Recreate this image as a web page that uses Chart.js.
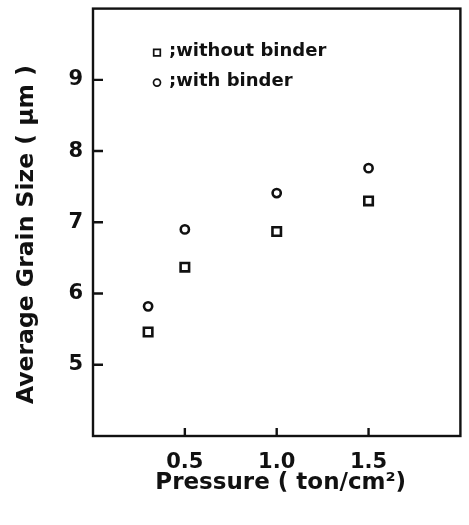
<!DOCTYPE html>
<html><head><meta charset="utf-8">
<script src="https://cdn.jsdelivr.net/npm/chart.js@4.4.1/dist/chart.umd.min.js"></script>
<style>html,body{margin:0;padding:0;background:#fff;}canvas{display:block;}</style>
</head><body>
<canvas id="c" width="469" height="525"></canvas>
<script>
const pressure = [0.3, 0.5, 1.0, 1.5];
const withoutBinder = [5.46, 6.37, 6.87, 7.30];
const withBinder = [5.82, 6.90, 7.41, 7.76];
const xTicks = [0.5, 1.0, 1.5];
const yTicks = [5, 6, 7, 8, 9];
const seriesLabels = [';without binder', ';with binder'];
const xTitle = ' Pressure ( ton/cm\u00B2)';
const yTitle = 'Average Grain Size ( \u03BCm )   ';

const FONT = "'DejaVu Sans', sans-serif";
const INK = '#111';

const toPts = ys => pressure.map((x, i) => ({x, y: ys[i]}));

const frame = {
  id: 'frame',
  afterDraw(chart) {
    const {ctx, chartArea: a, scales: {x, y}} = chart;
    ctx.save();
    ctx.strokeStyle = INK;
    ctx.lineWidth = 2.4;
    ctx.lineCap = 'butt';
    ctx.strokeRect(a.left, a.top, a.right - a.left, a.bottom - a.top);
    ctx.beginPath();
    y.ticks.forEach(t => {
      const p = y.getPixelForValue(t.value);
      ctx.moveTo(a.left, p); ctx.lineTo(a.left + 10, p);
    });
    x.ticks.forEach(t => {
      const p = x.getPixelForValue(t.value);
      ctx.moveTo(p, a.bottom); ctx.lineTo(p, a.bottom - 8);
    });
    ctx.stroke();
    // legend
    const rows = [{dy: 44}, {dy: 74}];
    chart.data.datasets.forEach((ds, i) => {
      const cx = a.left + 64, cy = a.top + rows[i].dy;
      ctx.lineWidth = 1.7;
      ctx.beginPath();
      if (ds.pointStyle === 'rect') ctx.rect(cx - 3.3, cy - 3.3, 6.6, 6.6);
      else ctx.arc(cx, cy, 3.5, 0, Math.PI * 2);
      ctx.stroke();
      ctx.fillStyle = INK;
      ctx.font = "bold 18px " + FONT;
      ctx.textBaseline = 'middle';
      ctx.textAlign = 'left';
      ctx.fillText(ds.label, cx + 12, cy - 1);
    });
    ctx.restore();
  }
};

new Chart(document.getElementById('c'), {
  type: 'scatter',
  data: {
    datasets: [
      {label: seriesLabels[0], data: toPts(withoutBinder), pointStyle: 'rect', pointRadius: 6,
       borderColor: INK, backgroundColor: 'rgba(255,255,255,0)', pointBorderWidth: 2.6},
      {label: seriesLabels[1], data: toPts(withBinder), pointStyle: 'circle', pointRadius: 4.1,
       borderColor: INK, backgroundColor: 'rgba(255,255,255,0)', pointBorderWidth: 2.6}
    ]
  },
  options: {
    responsive: false,
    animation: false,
    layout: {padding: {top: 8, right: 6, left: 0, bottom: 0}},
    plugins: {legend: {display: false}, tooltip: {enabled: false}},
    scales: {
      x: {
        type: 'linear', min: 0, max: 2,
        afterBuildTicks: s => { s.ticks = xTicks.map(v => ({value: v})); },
        afterFit: s => { s.height = 89; s.paddingLeft = 0; s.paddingRight = 0; },
        grid: {display: false, drawTicks: false},
        border: {display: false},
        ticks: {color: INK, padding: 14, font: {family: FONT, size: 21, weight: 'bold'},
                callback: v => Number(v).toFixed(1)},
        title: {display: true, text: xTitle, color: INK, padding: {top: 0, bottom: 28},
                font: {family: FONT, size: 23, weight: 'bold'}}
      },
      y: {
        type: 'linear', min: 4, max: 10,
        afterBuildTicks: s => { s.ticks = yTicks.map(v => ({value: v})); },
        afterFit: s => { s.width = 93; s.paddingTop = 0; s.paddingBottom = 0; },
        grid: {display: false, drawTicks: false},
        border: {display: false},
        ticks: {color: INK, padding: 10, font: {family: FONT, size: 21, weight: 'bold'},
                callback: v => String(v)},
        title: {display: true, text: yTitle, color: INK, padding: {top: 13, bottom: 0},
                font: {family: FONT, size: 23.5, weight: 'bold'}}
      }
    }
  },
  plugins: [frame]
});
</script>
</body></html>
